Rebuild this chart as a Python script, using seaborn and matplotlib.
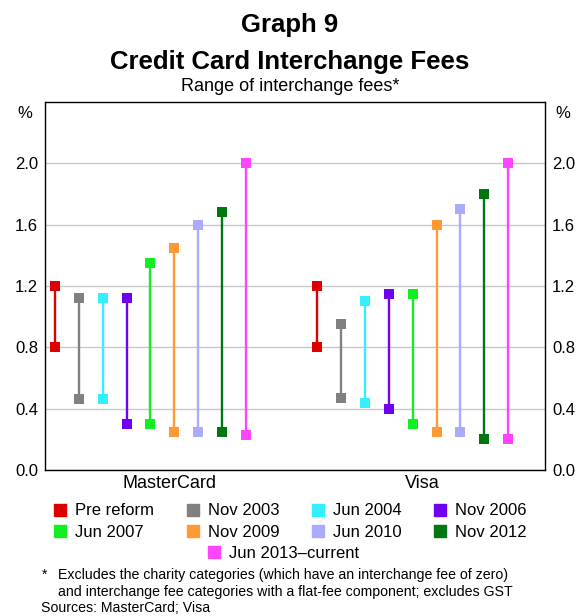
import matplotlib
matplotlib.use("Agg")
import matplotlib.pyplot as plt
from matplotlib.lines import Line2D
import seaborn as sns
import pandas as pd

# data (per cent)
periods = ["Pre reform", "Nov 2003", "Jun 2004", "Nov 2006", "Jun 2007",
           "Nov 2009", "Jun 2010", "Nov 2012", "Jun 2013\u2013current"]
mc_low = [0.80, 0.46, 0.46, 0.30, 0.30, 0.25, 0.25, 0.25, 0.23]
mc_high = [1.20, 1.12, 1.12, 1.12, 1.35, 1.45, 1.60, 1.68, 2.00]
visa_low = [0.80, 0.47, 0.44, 0.40, 0.30, 0.25, 0.25, 0.20, 0.20]
visa_high = [1.20, 0.95, 1.10, 1.15, 1.15, 1.60, 1.70, 1.80, 2.00]
schemes = ["MasterCard", "Visa"]
colours = ["#dd0000", "#808080", "#33f0ff", "#7000f0", "#11ee22",
           "#ff9933", "#aaaaff", "#007711", "#ff44ff"]
yticks = [0.0, 0.4, 0.8, 1.2, 1.6, 2.0]

rows = []
for s, lows, highs, offset in [("MasterCard", mc_low, mc_high, 0),
                               ("Visa", visa_low, visa_high, 11)]:
    for i, p in enumerate(periods):
        rows.append({"scheme": s, "period": p, "x": i + offset,
                     "low": lows[i], "high": highs[i]})
df = pd.DataFrame(rows)
pts = df.melt(id_vars=["scheme", "period", "x"], value_vars=["low", "high"],
              value_name="fee")

sns.set_style("white")
plt.rcParams["font.family"] = ["Liberation Sans", "DejaVu Sans"]
plt.rcParams["text.color"] = "black"
plt.rcParams["xtick.color"] = "black"
plt.rcParams["ytick.color"] = "black"

fig = plt.figure(figsize=(5.8, 6.16), dpi=100)
ax = fig.add_axes([45 / 580, 1 - 470 / 616, 500 / 580, 368 / 616])
pal = dict(zip(periods, colours))

# range lines, then end markers on top
for _, r in df.iterrows():
    ax.vlines(r["x"], r["low"], r["high"], color=pal[r["period"]], lw=1.7, zorder=2)
sns.scatterplot(data=pts, x="x", y="fee", hue="period", palette=pal,
                marker="s", s=52, linewidth=0, legend=False, ax=ax, zorder=3)

ax.set_xlim(-0.42, 20.55)
ax.set_ylim(0, 2.4)
ax.set_yticks(yticks)
ax.set_yticklabels([f"{v:.1f}" for v in yticks])
ax.yaxis.grid(True, color="#c8c8c8", lw=1)
ax.set_axisbelow(True)
ax.set_xticks([10.5])
ax.set_xticklabels([])
ax.tick_params(axis="x", direction="in", length=5, width=1, color="#555555")
ax.tick_params(axis="y", length=0, labelsize=12, pad=5, labelright=True, right=False)
for sp in ax.spines.values():
    sp.set_color("black")
    sp.set_linewidth(1)
ax.set_xlabel("")
ax.set_ylabel("")
ax.text(4.8, -0.035, "MasterCard", ha="center", va="top", fontsize=13)
ax.text(15.4, -0.035, "Visa", ha="center", va="top", fontsize=13)
fig.text(25 / 580, 1 - 113 / 616, "%", ha="center", va="center", fontsize=12)
fig.text(563 / 580, 1 - 113 / 616, "%", ha="center", va="center", fontsize=12)

fig.text(0.5, 1 - 32 / 616, "Graph 9", ha="center", va="baseline",
         fontsize=18.5, fontweight="bold")
fig.text(0.5, 1 - 69 / 616, "Credit Card Interchange Fees", ha="center",
         va="baseline", fontsize=18.5, fontweight="bold")
fig.text(0.5, 1 - 91 / 616, "Range of interchange fees*", ha="center",
         va="baseline", fontsize=13)

handles = [Line2D([], [], marker="s", color=c, ls="", markersize=8) for c in colours]
order = [0, 4, 1, 5, 2, 6, 3, 7]
fig.legend([handles[i] for i in order], [periods[i] for i in order], ncol=4,
           loc="upper center", bbox_to_anchor=(0.5, 1 - 495 / 616), frameon=False,
           fontsize=12, handlelength=0.8, handletextpad=0.5, columnspacing=1.9,
           labelspacing=0.38, borderpad=0)
fig.legend([handles[8]], [periods[8]], loc="upper center",
           bbox_to_anchor=(0.5 - 7 / 580, 1 - 538 / 616), frameon=False,
           fontsize=12, handlelength=0.8, handletextpad=0.5, borderpad=0)

fig.text(42 / 580, 1 - 575 / 616, "*", ha="left", va="center", fontsize=10)
fig.text(58 / 580, 1 - 575 / 616,
         "Excludes the charity categories (which have an interchange fee of zero)",
         ha="left", va="center", fontsize=10.2)
fig.text(58 / 580, 1 - 592 / 616,
         "and interchange fee categories with a flat-fee component; excludes GST",
         ha="left", va="center", fontsize=10.2)
fig.text(41 / 580, 1 - 608.5 / 616, "Sources: MasterCard; Visa",
         ha="left", va="center", fontsize=10.2)

fig.savefig("out.png", dpi=100)
